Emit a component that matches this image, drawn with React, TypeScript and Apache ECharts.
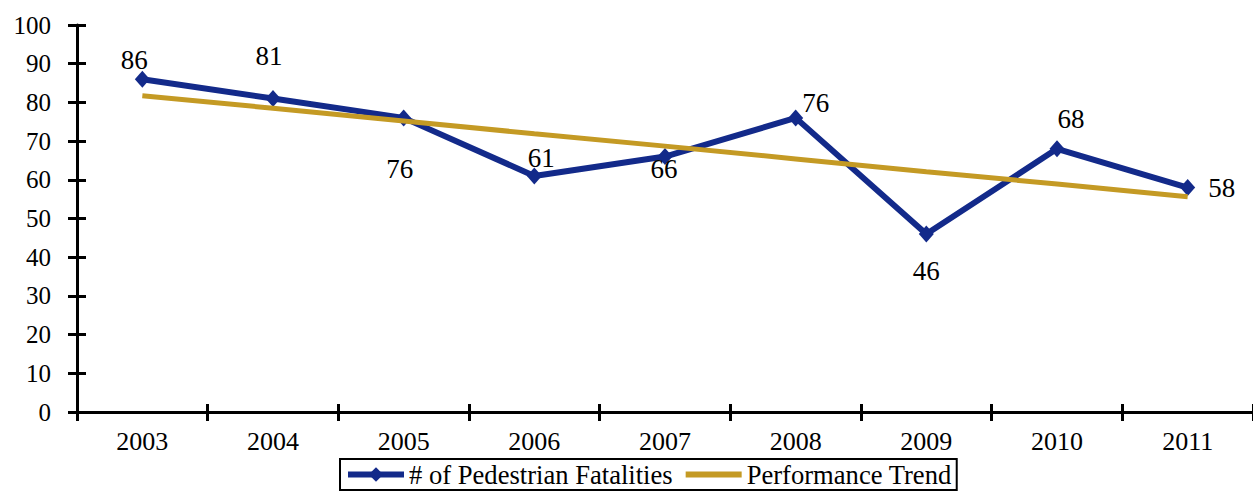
import React, { useEffect, useRef } from "react";
import * as echarts from "echarts";

const years = ["2003", "2004", "2005", "2006", "2007", "2008", "2009", "2010", "2011"];
const fatalities = [86, 81, 76, 61, 66, 76, 46, 68, 58];
const trend = [81.7, 78.5, 75.2, 71.9, 68.7, 65.4, 62.1, 58.9, 55.6];
const seriesNames = ["# of Pedestrian Fatalities", "Performance Trend"];

// label placement relative to each point (pixels)
const labelOffsets: [number, number][] = [
  [-8, -19], [-4, -43], [-4, 51], [7, -18], [-1, 12], [20, -15], [0, 37], [14, -30], [34, 0],
];

const FONT = "Liberation Serif";
const BLUE = "#132a8a";
const GOLD = "#c49a24";

export default function App() {
  const ref = useRef<HTMLDivElement>(null);
  useEffect(() => {
    if (!ref.current) return;
    const chart = echarts.init(ref.current, null, { renderer: "svg" });
    const tickStyle = { color: "#000", width: 3 };
    chart.setOption({
      animation: false,
      textStyle: { fontFamily: FONT },
      grid: { left: 77, top: 25, width: 1184, height: 387, containLabel: false },
      xAxis: [
        {
          type: "category",
          data: years,
          position: "bottom",
          boundaryGap: true,
          axisLine: { onZero: false, lineStyle: { color: "#000", width: 3 } },
          axisTick: { show: true, length: 9, lineStyle: tickStyle },
          axisLabel: { color: "#000", fontFamily: FONT, fontSize: 26, margin: 16 },
          splitLine: { show: false },
        },
        {
          type: "category",
          data: years,
          position: "bottom",
          boundaryGap: true,
          axisLine: { show: false, onZero: false },
          axisTick: { show: true, inside: true, length: 8, lineStyle: tickStyle },
          axisLabel: { show: false },
          splitLine: { show: false },
        },
      ],
      yAxis: [
        {
          type: "value",
          min: 0,
          max: 100,
          interval: 10,
          position: "left",
          axisLine: { show: true, lineStyle: { color: "#000", width: 3 } },
          axisTick: { show: true, length: 9, lineStyle: tickStyle },
          axisLabel: { color: "#000", fontFamily: FONT, fontSize: 25, margin: 26 },
          splitLine: { show: false },
        },
        {
          type: "value",
          min: 0,
          max: 100,
          interval: 10,
          position: "left",
          axisLine: { show: false },
          axisTick: { show: true, inside: true, length: 9, lineStyle: tickStyle },
          axisLabel: { show: false },
          splitLine: { show: false },
        },
      ],
      legend: {
        left: 340,
        top: 459,
        data: [
          { name: seriesNames[0] },
          { name: seriesNames[1], itemStyle: { color: "rgba(0,0,0,0)", borderColor: "rgba(0,0,0,0)", borderWidth: 0 } },
        ],
        orient: "horizontal",
        borderColor: "#000",
        borderWidth: 2,
        borderRadius: 0,
        padding: [2, 5],
        itemGap: 10,
        itemWidth: 56,
        itemHeight: 18,
        lineStyle: { width: 6 },
        textStyle: { color: "#000", fontFamily: FONT, fontSize: 26.6 },
      },
      series: [
        {
          name: seriesNames[0],
          type: "line",
          data: fatalities.map((v, i) => ({
            value: v,
            label: { offset: labelOffsets[i] },
          })),
          symbol: "diamond",
          symbolSize: [15, 17],
          itemStyle: { color: BLUE },
          lineStyle: { color: BLUE, width: 6 },
          label: {
            show: true,
            position: "inside",
            align: "center",
            verticalAlign: "middle",
            color: "#000",
            fontFamily: FONT,
            fontSize: 27,
          },
          z: 2,
        },
        {
          name: seriesNames[1],
          type: "line",
          data: trend,
          symbol: "none",
          showSymbol: false,
          itemStyle: { color: GOLD },
          lineStyle: { color: GOLD, width: 5 },
          z: 3,
        },
      ],
    });
    return () => chart.dispose();
  }, []);
  return (
    <div
      ref={ref}
      style={{ position: "absolute", left: 0, top: 0, width: 1253, height: 496, background: "#fff" }}
    />
  );
}
